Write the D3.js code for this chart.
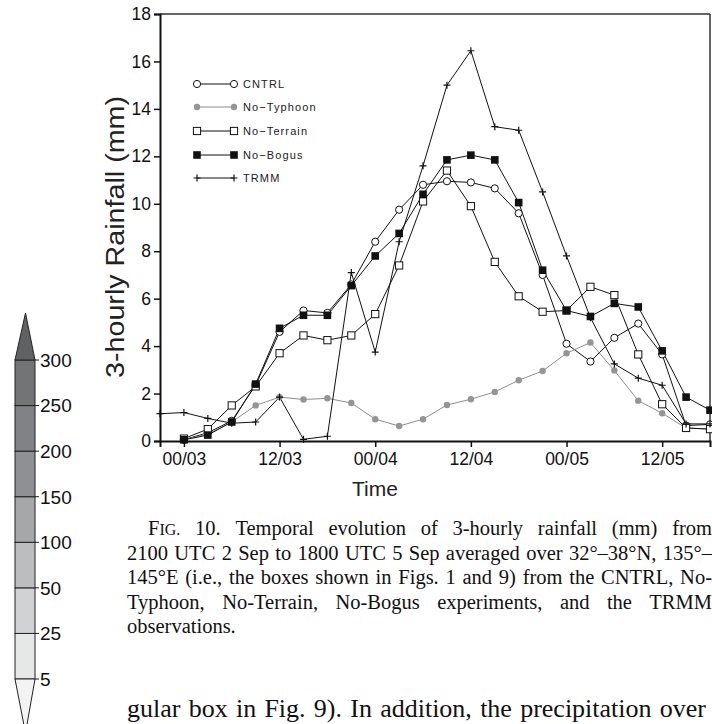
<!DOCTYPE html>
<html>
<head>
<meta charset="utf-8">
<script src="https://cdn.jsdelivr.net/npm/d3@7"></script>
<style>
body { margin: 0; background: #fff; }
</style>
</head>
<body>
<div id="chart"></div>
<script>
// 3-hourly steps, hours after 00 UTC 3 Sep (21 UTC 2 Sep .. 18 UTC 5 Sep)
var hours = [-3, 0, 3, 6, 9, 12, 15, 18, 21, 24, 27, 30, 33, 36, 39, 42, 45, 48, 51, 54, 57, 60, 63, 66];
var tickHours = [0, 12, 24, 36, 48, 60];
var tickLabels = ["00/03", "12/03", "00/04", "12/04", "00/05", "12/05"];
var yTicks = [0, 2, 4, 6, 8, 10, 12, 14, 16, 18];

var names = ["CNTRL", "No\u2212Typhoon", "No\u2212Terrain", "No\u2212Bogus", "TRMM"];
var cntrl     = [null, 0.05, 0.35, 0.85, 2.35, 4.6, 5.5, 5.4, 6.6, 8.4, 9.75, 10.8, 10.95, 10.9, 10.65, 9.6, 7.0, 4.1, 3.35, 4.35, 4.95, 3.65, 0.65, 0.7];
var noTyphoon = [null, 0.05, 0.3, 0.8, 1.5, 1.85, 1.75, 1.8, 1.6, 0.92, 0.63, 0.92, 1.52, 1.76, 2.07, 2.56, 2.95, 3.7, 4.15, 2.97, 1.7, 1.17, 0.55, 0.5];
var noTerrain = [null, 0.1, 0.5, 1.5, 2.3, 3.7, 4.45, 4.25, 4.45, 5.35, 7.4, 10.1, 11.4, 9.9, 7.55, 6.1, 5.45, 5.5, 6.5, 6.15, 3.65, 1.55, 0.55, 0.5];
var noBogus   = [null, 0.05, 0.25, 0.8, 2.4, 4.75, 5.3, 5.3, 6.55, 7.8, 8.75, 10.4, 11.85, 12.05, 11.85, 10.05, 7.2, 5.5, 5.25, 5.8, 5.65, 3.8, 1.85, 1.3];
var trmm      = [1.15, 1.2, 0.95, 0.75, 0.8, 1.85, 0.07, 0.2, 7.1, 3.75, 8.4, 11.6, 15.0, 16.45, 13.25, 13.1, 10.5, 7.8, 5.2, 3.25, 2.65, 2.35, 0.72, 0.72];

// colour bar of the neighbouring figure (left edge of the page)
var barLevels = [5, 25, 50, 100, 150, 200, 250, 300];
var barColors = ["#f3f3f3", "#e6e7e7", "#d1d2d4", "#bcbdbf", "#a6a7a9", "#8f9093", "#818285", "#737476", "#606163"];

var captionLines = [
  "Temporal evolution of 3-hourly rainfall (mm) from",
  "2100 UTC 2 Sep to 1800 UTC 5 Sep averaged over 32°–38°N, 135°–",
  "145°E (i.e., the boxes shown in Figs. 1 and 9) from the CNTRL, No-",
  "Typhoon, No-Terrain, No-Bogus experiments, and the TRMM",
  "observations."
];
var bodyLine = "gular box in Fig. 9). In addition, the precipitation over";

var width = 712, height = 724;
var svg = d3.select("#chart").append("svg")
  .attr("width", width)
  .attr("height", height);

var x = d3.scaleLinear().domain([-3, 66]).range([160, 710]);
var y = d3.scaleLinear().domain([0, 18]).range([441, 14]);

var sans = "'Liberation Sans', Arial, sans-serif";
var serif = "'Liberation Serif', 'Times New Roman', serif";

// frame
svg.append("line").attr("x1", 160).attr("x2", 710).attr("y1", 14).attr("y2", 14)
  .attr("stroke", "#333").attr("stroke-width", 1.5);
svg.append("line").attr("x1", 710).attr("x2", 710).attr("y1", 14).attr("y2", 441)
  .attr("stroke", "#333").attr("stroke-width", 1.5);

var yAxis = svg.append("g")
  .attr("transform", "translate(160,0)")
  .call(d3.axisLeft(y).tickValues(yTicks).tickSize(6).tickPadding(3).tickFormat(d3.format("d")));
var xAxis = svg.append("g")
  .attr("transform", "translate(0,441)")
  .call(d3.axisBottom(x).tickValues(tickHours).tickSize(6).tickPadding(6)
    .tickFormat(function(d, i) { return tickLabels[i]; }));

[yAxis, xAxis].forEach(function(a) {
  a.select(".domain").attr("stroke", "#111").attr("stroke-width", 2);
  a.selectAll(".tick line").attr("stroke", "#111").attr("stroke-width", 1.5);
  a.selectAll(".tick text").attr("font-family", sans).attr("font-size", 17.5).attr("fill", "#111");
});

svg.append("text")
  .attr("transform", "translate(124,237) rotate(-90)")
  .attr("text-anchor", "middle")
  .attr("font-family", sans).attr("font-size", 25).attr("fill", "#222")
  .attr("textLength", 282).attr("lengthAdjust", "spacingAndGlyphs")
  .text("3-hourly Rainfall (mm)");

svg.append("text")
  .attr("x", 375).attr("y", 496)
  .attr("text-anchor", "middle")
  .attr("font-family", sans).attr("font-size", 21).attr("fill", "#222")
  .text("Time");

// series
var series = [
  { name: names[0], values: cntrl, color: "#111", marker: "circle" },
  { name: names[1], values: noTyphoon, color: "#8e8e8e", marker: "dot" },
  { name: names[2], values: noTerrain, color: "#111", marker: "square" },
  { name: names[3], values: noBogus, color: "#111", marker: "fsquare" },
  { name: names[4], values: trmm, color: "#111", marker: "plus" }
];

function drawMarker(g, type, cx, cy) {
  if (type === "circle") {
    g.append("circle").attr("cx", cx).attr("cy", cy).attr("r", 3.6)
      .attr("fill", "#fff").attr("stroke", "#111").attr("stroke-width", 1);
  } else if (type === "dot") {
    g.append("circle").attr("cx", cx).attr("cy", cy).attr("r", 3.2)
      .attr("fill", "#959595");
  } else if (type === "square") {
    g.append("rect").attr("x", cx - 3.6).attr("y", cy - 3.6).attr("width", 7.2).attr("height", 7.2)
      .attr("fill", "#fff").attr("stroke", "#111").attr("stroke-width", 1);
  } else if (type === "fsquare") {
    g.append("rect").attr("x", cx - 3.8).attr("y", cy - 3.8).attr("width", 7.6).attr("height", 7.6)
      .attr("fill", "#111");
  } else {
    g.append("path").attr("d", "M" + (cx - 3.5) + "," + cy + "h7M" + cx + "," + (cy - 3.5) + "v7")
      .attr("stroke", "#111").attr("stroke-width", 1.2);
  }
}

var line = d3.line()
  .defined(function(d) { return d != null; })
  .x(function(d, i) { return x(hours[i]); })
  .y(function(d) { return y(d); });

series.forEach(function(s) {
  svg.append("path")
    .attr("d", line(s.values))
    .attr("fill", "none")
    .attr("stroke", s.color)
    .attr("stroke-width", 1);
});
series.forEach(function(s) {
  var g = svg.append("g");
  s.values.forEach(function(v, i) {
    if (v != null) drawMarker(g, s.marker, x(hours[i]), y(v));
  });
});

// legend
var legendY = [84, 107, 131, 155, 178];
series.forEach(function(s, i) {
  var g = svg.append("g");
  g.append("line").attr("x1", 197).attr("x2", 234).attr("y1", legendY[i]).attr("y2", legendY[i])
    .attr("stroke", s.color).attr("stroke-width", 1);
  drawMarker(g, s.marker, 197, legendY[i]);
  drawMarker(g, s.marker, 234, legendY[i]);
  g.append("text").attr("x", 243).attr("y", legendY[i] + 4)
    .attr("font-family", sans).attr("font-size", 11).attr("letter-spacing", 1.1).attr("fill", "#222")
    .text(s.name);
});

// colour bar
var cb = d3.scaleLinear().domain([0, barLevels.length - 1]).range([679, 360]);
var cbg = svg.append("g");
barLevels.slice(0, -1).forEach(function(v, i) {
  cbg.append("rect").attr("x", 15).attr("width", 20)
    .attr("y", cb(i + 1)).attr("height", cb(i) - cb(i + 1))
    .attr("fill", barColors[i + 1]).attr("stroke", "#222").attr("stroke-width", 1);
});
cbg.append("path").attr("d", "M15," + cb(barLevels.length - 1) + "L25.5,313L35," + cb(barLevels.length - 1) + "Z")
  .attr("fill", barColors[barColors.length - 1]).attr("stroke", "#222").attr("stroke-width", 1);
cbg.append("path").attr("d", "M15," + cb(0) + "L25.5,733L35," + cb(0) + "Z")
  .attr("fill", barColors[0]).attr("stroke", "#222").attr("stroke-width", 1);
barLevels.forEach(function(v, i) {
  cbg.append("line").attr("x1", 35).attr("x2", 39).attr("y1", cb(i)).attr("y2", cb(i))
    .attr("stroke", "#222").attr("stroke-width", 1);
  cbg.append("text").attr("x", 40).attr("y", cb(i)).attr("dy", "0.36em")
    .attr("font-family", sans).attr("font-size", 19).attr("fill", "#111")
    .text(v);
});

// caption, justified word by word
function justify(words, x0, x1, yb, size, first) {
  var g = svg.append("g").attr("font-family", serif).attr("font-size", size).attr("fill", "#111");
  var nodes = words.map(function(w) {
    return g.append("text").attr("y", yb).text(w);
  });
  if (first) {
    nodes.unshift(g.append("text").attr("y", yb).text(null)
      .call(function(t) {
        t.append("tspan").text("F");
        t.append("tspan").attr("font-size", size * 0.78).text("IG.");
      }));
  }
  var widths = nodes.map(function(n) { return n.node().getComputedTextLength(); });
  var total = d3.sum(widths);
  var gap = (x1 - x0 - total) / (nodes.length - 1);
  var cx = x0;
  nodes.forEach(function(n, i) {
    n.attr("x", cx);
    cx += widths[i] + gap;
  });
}

var capBase = [535, 560, 584, 609, 633];
captionLines.forEach(function(l, i) {
  var words = l.split(" ");
  if (i === 0) {
    words = ["10."].concat(words);
    justify(words, 148, 712, capBase[i], 20.5, true);
  } else if (i < captionLines.length - 1) {
    justify(words, 127, 712, capBase[i], 20.5, false);
  } else {
    svg.append("text").attr("x", 127).attr("y", capBase[i])
      .attr("font-family", serif).attr("font-size", 20.5).attr("fill", "#111").text(l);
  }
});
justify(bodyLine.split(" "), 127, 706, 717, 26, false);
</script>
</body>
</html>
